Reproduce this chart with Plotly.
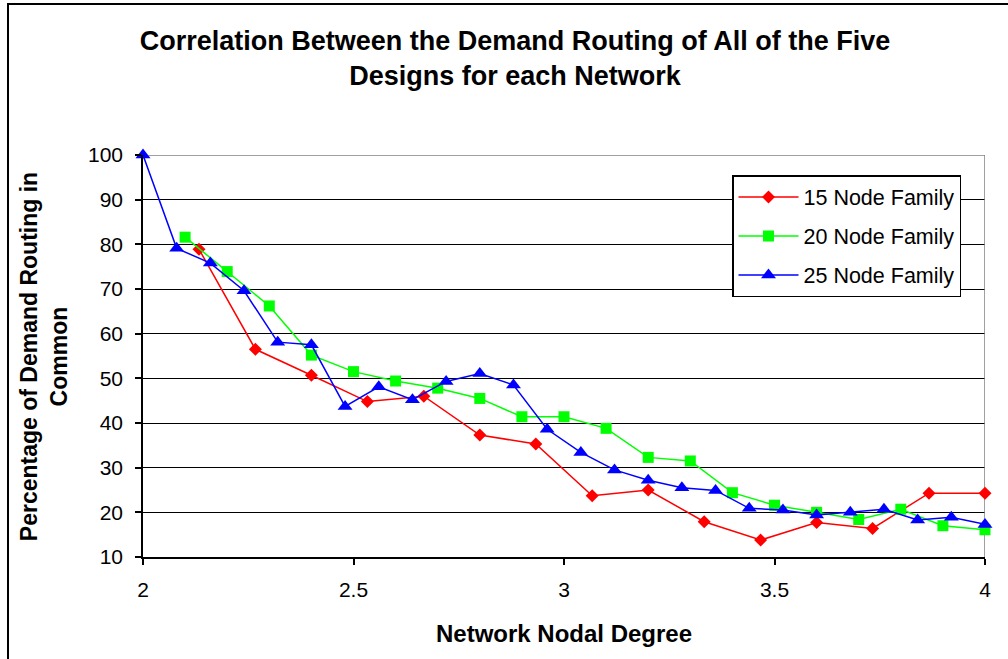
import plotly.graph_objects as go

# ---- data ----
x15 = [2.133, 2.267, 2.4, 2.533, 2.667, 2.8, 2.933, 3.067, 3.2, 3.333, 3.467, 3.6, 3.733, 3.867, 4.0]
y15 = [78.9, 56.5, 50.7, 44.8, 46.0, 37.3, 35.3, 23.7, 25.0, 17.9, 13.8, 17.7, 16.4, 24.3, 24.3]

x20 = [2.1, 2.2, 2.3, 2.4, 2.5, 2.6, 2.7, 2.8, 2.9, 3.0, 3.1, 3.2, 3.3, 3.4, 3.5, 3.6, 3.7, 3.8, 3.9, 4.0]
y20 = [81.6, 73.9, 66.2, 55.2, 51.5, 49.4, 47.8, 45.5, 41.4, 41.4, 38.8, 32.3, 31.5, 24.4, 21.6, 20.0, 18.4, 20.7, 17.0, 16.1]

x25 = [2.0, 2.08, 2.16, 2.24, 2.32, 2.4, 2.48, 2.56, 2.64, 2.72, 2.8, 2.88, 2.96, 3.04, 3.12, 3.2,
       3.28, 3.36, 3.44, 3.52, 3.6, 3.68, 3.76, 3.84, 3.92, 4.0]
y25 = [100.0, 79.1, 75.8, 69.6, 58.1, 57.5, 43.7, 48.1, 45.2, 49.3, 51.1, 48.5, 38.6, 33.4, 29.5, 27.2,
       25.5, 24.9, 20.9, 20.5, 19.4, 20.0, 20.7, 18.3, 18.9, 17.3]

series_names = ["15 Node Family", "20 Node Family", "25 Node Family"]
x_ticks = [2, 2.5, 3, 3.5, 4]
x_tick_text = ["2", "2.5", "3", "3.5", "4"]
y_ticks = [10, 20, 30, 40, 50, 60, 70, 80, 90, 100]
x_range = [2, 4]
y_range = [10, 100]

title_text = "Correlation Between the Demand Routing of All of the Five<br>Designs for each Network"
x_title = "Network Nodal Degree"
y_title = "Percentage of Demand Routing in<br>Common"

FONT = "Liberation Sans, Arial, sans-serif"

fig = go.Figure()
styles = [
    dict(color="#FF0000", symbol="diamond", size=10),
    dict(color="#00FF00", symbol="square", size=11),
    dict(color="#0000FF", symbol="triangle-up", size=13),
]
for (xs, ys, name, st) in zip([x15, x20, x25], [y15, y20, y25], series_names, styles):
    fig.add_trace(go.Scatter(
        x=xs, y=ys, name=name, mode="lines+markers", legendgroup=name,
        line=dict(color=st["color"], width=1.5),
        marker=dict(color=st["color"], symbol=st["symbol"], size=st["size"], line=dict(width=0)),
        cliponaxis=False,
    ))

# pixel -> paper helpers for the decorative outer frame
def px_x(p):
    return (p - 143) / 842

def px_y(p):
    return (557 - p) / 402

fig.update_layout(
    width=1008, height=659,
    margin=dict(l=143, r=23, t=155, b=102),
    paper_bgcolor="white", plot_bgcolor="white",
    font=dict(family=FONT, color="#000000"),
    title=dict(text=title_text, x=515 / 1008, xanchor="center", y=1 - 50 / 659, yanchor="middle",
               font=dict(size=27, family=FONT, color="#000000", weight="bold")),
    showlegend=True,
    legend=dict(x=px_x(732), y=px_y(175), xanchor="left", yanchor="top",
                bgcolor="white", bordercolor="#000000", borderwidth=1.5,
                font=dict(size=21.5, family=FONT, color="#000000"),
                itemwidth=60, tracegroupgap=8),
    xaxis=dict(range=x_range, tickvals=x_ticks, ticktext=x_tick_text, showgrid=False,
               showline=True, linecolor="#000000", linewidth=1.5,
               ticks="outside", ticklen=6, tickcolor="#000000", tickwidth=1.5,
               tickfont=dict(size=21, family=FONT, color="#000000"),
               ticklabelstandoff=7, zeroline=False),
    yaxis=dict(range=y_range, tickvals=y_ticks, showgrid=True, gridcolor="#000000", gridwidth=1.4,
               showline=True, linecolor="#000000", linewidth=1.5,
               ticks="outside", ticklen=6, tickcolor="#000000", tickwidth=1.5,
               tickfont=dict(size=21, family=FONT, color="#000000"),
               ticklabelstandoff=8, zeroline=False),
    annotations=[
        dict(text=x_title, xref="paper", yref="paper", x=0.5, y=px_y(633),
             xanchor="center", yanchor="middle", showarrow=False,
             font=dict(size=24, family=FONT, color="#000000", weight="bold")),
        dict(text=y_title, xref="paper", yref="paper", x=px_x(44), y=0.497,
             xanchor="center", yanchor="middle", showarrow=False, textangle=-90,
             font=dict(size=23, family=FONT, color="#000000", weight="bold")),
    ],
    shapes=[
        # gray plot-area border (top and right), drawn over the gridline at the top
        dict(type="line", xref="x", yref="y", x0=x_range[0], x1=x_range[1], y0=y_range[1], y1=y_range[1],
             line=dict(color="#808080", width=1.5), layer="between"),
        dict(type="line", xref="x", yref="y", x0=x_range[1], x1=x_range[1], y0=y_range[0], y1=y_range[1],
             line=dict(color="#808080", width=1.5), layer="between"),
        # outer chart frame: only top and left edges are inside the picture
        dict(type="line", xref="paper", yref="paper", x0=px_x(7), x1=px_x(1008), y0=px_y(4), y1=px_y(4),
             line=dict(color="#000000", width=2), layer="above"),
        dict(type="line", xref="paper", yref="paper", x0=px_x(8), x1=px_x(8), y0=px_y(3), y1=px_y(659),
             line=dict(color="#000000", width=2), layer="above"),
    ],
)

fig.write_html("out.html")
